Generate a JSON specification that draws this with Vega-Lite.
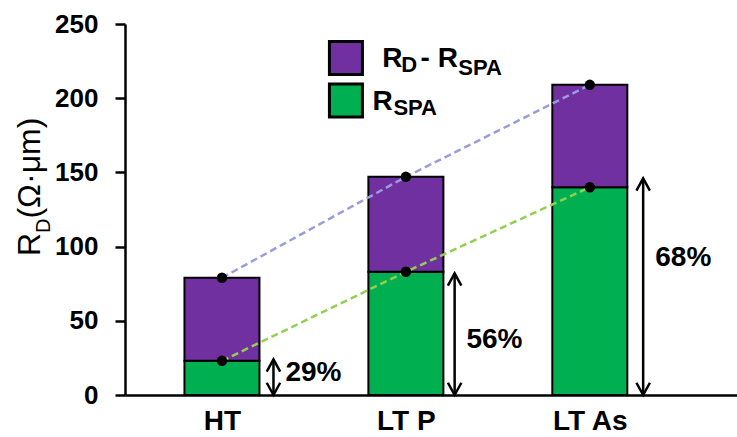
{
  "$schema": "https://vega.github.io/schema/vega-lite/v6.json",
  "width": 612,
  "height": 371,
  "autosize": {"type": "none"},
  "padding": {"left": 125, "top": 24, "right": 0, "bottom": 42},
  "background": "white",
  "config": {
    "view": {"stroke": null},
    "font": "Liberation Sans",
    "axisX": {"domainColor": "black", "domainWidth": 2.5, "ticks": false, "grid": false, "labelFont": "Liberation Sans", "labelFontWeight": "bold", "labelFontSize": 28, "labelColor": "black", "labelPadding": 12, "labelAngle": 0},
    "axisY": {"domainColor": "black", "domainWidth": 2.5, "tickColor": "black", "tickWidth": 2.5, "tickSize": 10, "grid": false, "labelFont": "Liberation Sans", "labelFontWeight": "bold", "labelFontSize": 26, "labelColor": "black", "labelPadding": 17}
  },
  "datasets": {
    "bars": [
      {"cat": "HT", "pos": 0.5, "rspa": 23, "rd": 79},
      {"cat": "LT P", "pos": 1.5, "rspa": 83, "rd": 147},
      {"cat": "LT As", "pos": 2.5, "rspa": 140, "rd": 209}
    ],
    "arrows": [
      {"x": 0.78, "lo": 0, "hi": 24},
      {"x": 1.765, "lo": 0, "hi": 82},
      {"x": 2.79, "lo": 0, "hi": 146}
    ],
    "pct": [
      {"x": 0.845, "y": 14.8, "t": "29%"},
      {"x": 1.829, "y": 37.1, "t": "56%"},
      {"x": 2.856, "y": 92.3, "t": "68%"}
    ],
    "legendKeys": [
      {"key": "RD - RSPA", "x": 1.174, "y": 227.1},
      {"key": "RSPA", "x": 1.174, "y": 198.5}
    ],
    "legendMain": [
      {"t": "R", "x": 1.372, "y": 221.0},
      {"t": "- R", "x": 1.58, "y": 221.0},
      {"t": "R", "x": 1.318, "y": 192.0}
    ],
    "legendSub": [
      {"t": "D", "x": 1.475, "y": 217.9},
      {"t": "SPA", "x": 1.785, "y": 215.6},
      {"t": "SPA", "x": 1.432, "y": 188.7}
    ],
    "titleMain": [
      {"t": "R", "x": -0.487, "y": 93.7},
      {"t": "(Ω·μm)", "x": -0.487, "y": 118.9}
    ],
    "titleSub": [
      {"t": "D", "x": -0.433, "y": 109.2}
    ]
  },
  "layer": [
    {
      "data": {"name": "bars"},
      "mark": {"type": "bar", "color": "#00B050", "stroke": "black", "strokeWidth": 2, "width": 75},
      "encoding": {
        "x": {"field": "pos", "type": "quantitative", "title": null, "scale": {"domain": [0, 3.273], "nice": false, "zero": false},
              "axis": {"values": [0.5, 1.5, 2.5], "labelExpr": "datum.value == 0.5 ? 'HT' : datum.value == 1.5 ? 'LT P' : 'LT As'"}},
        "y": {"field": "rspa", "type": "quantitative", "title": null, "scale": {"domain": [0, 250], "nice": false},
              "axis": {"values": [0, 50, 100, 150, 200, 250]}},
        "y2": {"datum": 0}
      }
    },
    {
      "data": {"name": "bars"},
      "mark": {"type": "bar", "color": "#7030A0", "stroke": "black", "strokeWidth": 2, "width": 75},
      "encoding": {
        "x": {"field": "pos", "type": "quantitative", "title": null},
        "y": {"field": "rd", "type": "quantitative", "title": null},
        "y2": {"field": "rspa"}
      }
    },
    {
      "data": {"name": "bars"},
      "mark": {"type": "line", "color": "#9B9BE0", "strokeWidth": 2.5, "strokeDash": [7, 4]},
      "encoding": {
        "x": {"field": "pos", "type": "quantitative", "title": null},
        "y": {"field": "rd", "type": "quantitative", "title": null}
      }
    },
    {
      "data": {"name": "bars"},
      "mark": {"type": "line", "color": "#92D050", "strokeWidth": 2.5, "strokeDash": [7, 4]},
      "encoding": {
        "x": {"field": "pos", "type": "quantitative", "title": null},
        "y": {"field": "rspa", "type": "quantitative", "title": null}
      }
    },
    {
      "data": {"name": "bars"},
      "mark": {"type": "point", "shape": "circle", "filled": true, "color": "black", "opacity": 1, "size": 110},
      "encoding": {
        "x": {"field": "pos", "type": "quantitative", "title": null},
        "y": {"field": "rd", "type": "quantitative", "title": null}
      }
    },
    {
      "data": {"name": "bars"},
      "mark": {"type": "point", "shape": "circle", "filled": true, "color": "black", "opacity": 1, "size": 110},
      "encoding": {
        "x": {"field": "pos", "type": "quantitative", "title": null},
        "y": {"field": "rspa", "type": "quantitative", "title": null}
      }
    },
    {
      "data": {"name": "arrows"},
      "mark": {"type": "rule", "color": "black", "strokeWidth": 2.5},
      "encoding": {
        "x": {"field": "x", "type": "quantitative", "title": null},
        "y": {"field": "lo", "type": "quantitative", "title": null},
        "y2": {"field": "hi"}
      }
    },
    {
      "data": {"name": "arrows"},
      "mark": {"type": "point", "shape": "M-0.55,1L0,0L0.55,1", "filled": false, "stroke": "black", "strokeWidth": 2.5, "opacity": 1, "size": 600},
      "encoding": {
        "x": {"field": "x", "type": "quantitative", "title": null},
        "y": {"field": "hi", "type": "quantitative", "title": null}
      }
    },
    {
      "data": {"name": "arrows"},
      "mark": {"type": "point", "shape": "M-0.55,-1L0,0L0.55,-1", "filled": false, "stroke": "black", "strokeWidth": 2.5, "opacity": 1, "size": 600},
      "encoding": {
        "x": {"field": "x", "type": "quantitative", "title": null},
        "y": {"field": "lo", "type": "quantitative", "title": null}
      }
    },
    {
      "data": {"name": "pct"},
      "mark": {"type": "text", "align": "left", "baseline": "middle", "font": "Liberation Sans", "fontWeight": "bold", "fontSize": 28, "color": "black"},
      "encoding": {
        "x": {"field": "x", "type": "quantitative", "title": null},
        "y": {"field": "y", "type": "quantitative", "title": null},
        "text": {"field": "t"}
      }
    },
    {
      "data": {"name": "legendKeys"},
      "mark": {"type": "point", "shape": "square", "filled": true, "opacity": 1, "stroke": "black", "strokeWidth": 3, "size": 1089},
      "encoding": {
        "x": {"field": "x", "type": "quantitative", "title": null},
        "y": {"field": "y", "type": "quantitative", "title": null},
        "fill": {"field": "key", "type": "nominal", "legend": null, "scale": {"domain": ["RD - RSPA", "RSPA"], "range": ["#7030A0", "#00B050"]}}
      }
    },
    {
      "data": {"name": "legendMain"},
      "mark": {"type": "text", "align": "left", "baseline": "alphabetic", "font": "Liberation Sans", "fontWeight": "bold", "fontSize": 28, "color": "black"},
      "encoding": {
        "x": {"field": "x", "type": "quantitative", "title": null},
        "y": {"field": "y", "type": "quantitative", "title": null},
        "text": {"field": "t"}
      }
    },
    {
      "data": {"name": "legendSub"},
      "mark": {"type": "text", "align": "left", "baseline": "alphabetic", "font": "Liberation Sans", "fontWeight": "bold", "fontSize": 22, "color": "black"},
      "encoding": {
        "x": {"field": "x", "type": "quantitative", "title": null},
        "y": {"field": "y", "type": "quantitative", "title": null},
        "text": {"field": "t"}
      }
    },
    {
      "data": {"name": "titleMain"},
      "mark": {"type": "text", "align": "left", "baseline": "alphabetic", "angle": 270, "font": "Liberation Sans", "fontSize": 32, "color": "black"},
      "encoding": {
        "x": {"field": "x", "type": "quantitative", "title": null},
        "y": {"field": "y", "type": "quantitative", "title": null},
        "text": {"field": "t"}
      }
    },
    {
      "data": {"name": "titleSub"},
      "mark": {"type": "text", "align": "left", "baseline": "alphabetic", "angle": 270, "font": "Liberation Sans", "fontSize": 20, "color": "black"},
      "encoding": {
        "x": {"field": "x", "type": "quantitative", "title": null},
        "y": {"field": "y", "type": "quantitative", "title": null},
        "text": {"field": "t"}
      }
    }
  ]
}
